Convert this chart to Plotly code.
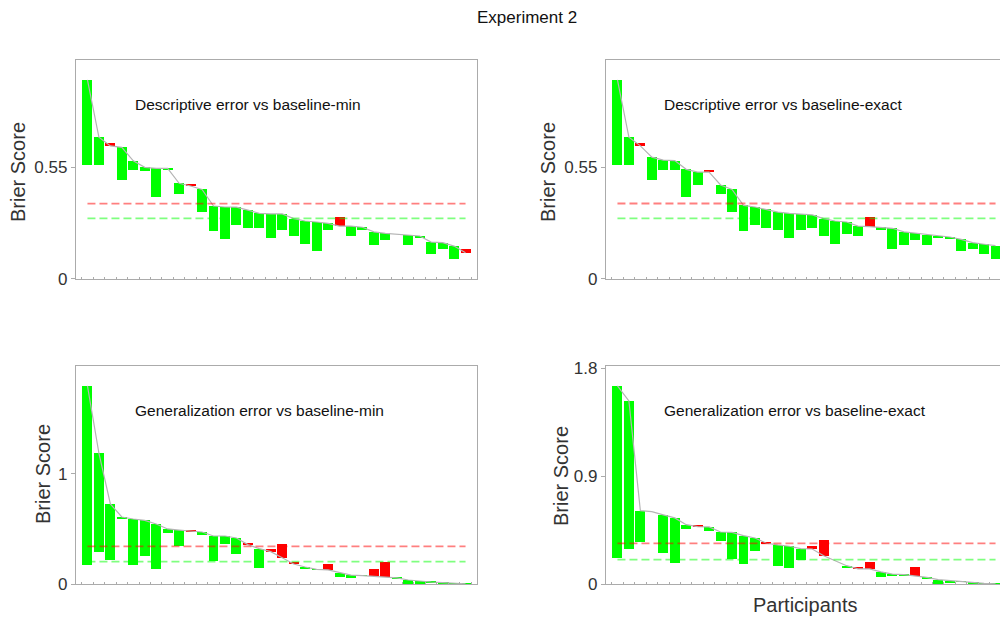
import plotly.graph_objects as go

# Brier scores per participant (34 participants), sorted by baseline score.
participants = list(range(1, 35))

# Descriptive error vs baseline-min
baseline_desc_min = [0.982, 0.699, 0.656, 0.649, 0.582, 0.550, 0.545, 0.545, 0.471, 0.458,
                     0.441, 0.359, 0.354, 0.353, 0.339, 0.323, 0.320, 0.320, 0.297, 0.285,
                     0.280, 0.273, 0.260, 0.260, 0.254, 0.231, 0.224, 0.219, 0.214, 0.211,
                     0.181, 0.178, 0.161, 0.128]
model_desc_min = [0.562, 0.562, 0.669, 0.489, 0.539, 0.534, 0.405, 0.540, 0.418, 0.463,
                  0.329, 0.236, 0.196, 0.265, 0.250, 0.250, 0.203, 0.241, 0.213, 0.173,
                  0.137, 0.241, 0.305, 0.212, 0.242, 0.168, 0.193, 0.219, 0.168, 0.203,
                  0.124, 0.147, 0.099, 0.147]

# Descriptive error vs baseline-exact
baseline_desc_exact = [0.982, 0.699, 0.656, 0.600, 0.586, 0.583, 0.540, 0.526, 0.527, 0.463,
                       0.441, 0.362, 0.354, 0.343, 0.329, 0.323, 0.320, 0.315, 0.297, 0.285,
                       0.280, 0.260, 0.257, 0.254, 0.249, 0.231, 0.224, 0.217, 0.212, 0.206,
                       0.194, 0.178, 0.170, 0.163]
model_desc_exact = [0.562, 0.562, 0.669, 0.489, 0.539, 0.539, 0.405, 0.463, 0.532, 0.418,
                    0.329, 0.236, 0.265, 0.250, 0.241, 0.203, 0.241, 0.250, 0.213, 0.173,
                    0.221, 0.213, 0.305, 0.242, 0.148, 0.168, 0.193, 0.168, 0.203, 0.196,
                    0.138, 0.147, 0.124, 0.099]

# Generalization error vs baseline-min
baseline_gen_min = [1.798, 1.190, 0.728, 0.610, 0.592, 0.580, 0.547, 0.502, 0.492, 0.483,
                    0.474, 0.438, 0.438, 0.420, 0.360, 0.323, 0.296, 0.241, 0.184, 0.157,
                    0.136, 0.130, 0.105, 0.084, 0.078, 0.072, 0.066, 0.058, 0.039, 0.027,
                    0.021, 0.015, 0.010, 0.005]
model_gen_min = [0.175, 0.293, 0.221, 0.598, 0.175, 0.257, 0.142, 0.468, 0.350, 0.490,
                 0.450, 0.211, 0.368, 0.278, 0.366, 0.151, 0.320, 0.365, 0.196, 0.141,
                 0.134, 0.184, 0.069, 0.066, 0.076, 0.139, 0.202, 0.052, 0.005, 0.005,
                 0.018, 0.005, 0.008, 0.004]

# Generalization error vs baseline-exact
baseline_gen_exact = [1.653, 1.528, 0.614, 0.605, 0.578, 0.553, 0.497, 0.481, 0.478, 0.436,
                      0.433, 0.405, 0.386, 0.342, 0.328, 0.317, 0.297, 0.294, 0.238, 0.194,
                      0.155, 0.128, 0.128, 0.103, 0.085, 0.080, 0.070, 0.058, 0.039, 0.030,
                      0.022, 0.016, 0.008, 0.003]
model_gen_exact = [0.222, 0.297, 0.353, 0.605, 0.264, 0.181, 0.464, 0.487, 0.447, 0.363,
                   0.211, 0.172, 0.278, 0.353, 0.155, 0.139, 0.203, 0.319, 0.369, 0.194,
                   0.144, 0.138, 0.186, 0.061, 0.072, 0.072, 0.144, 0.047, 0.003, 0.014,
                   0.020, 0.002, 0.007, 0.002]

panel_titles = ["Descriptive error vs baseline-min", "Descriptive error vs baseline-exact",
                "Generalization error vs baseline-min", "Generalization error vs baseline-exact"]
y_tickvals = [[0, 0.55], [0, 0.55], [0, 1], [0, 0.9, 1.8]]
y_ticktext = [["0", "0.55"], ["0", "0.55"], ["0", "1"], ["0", "0.9", "1.8"]]
y_ranges = [[0, 1.08], [0, 1.08], [0, 1.979], [0, 1.819]]

panels = [(baseline_desc_min, model_desc_min),
          (baseline_desc_exact, model_desc_exact),
          (baseline_gen_min, model_gen_min),
          (baseline_gen_exact, model_gen_exact)]

W, H = 1000, 621
FONT = "Liberation Sans, Arial, sans-serif"
FRAME = "#ababab"
GREEN = "#00ff00"
RED = "#ff0000"

# pixel geometry of the four plot areas (left, right, top, bottom)
x_doms = [[76 / W, 477 / W], [606 / W, 1.0], [76 / W, 477 / W], [606 / W, 1.0]]
y_doms = [[(H - 278.7) / H, (H - 60) / H], [(H - 278.7) / H, (H - 60) / H],
          [(H - 584.3) / H, (H - 366) / H], [(H - 584.3) / H, (H - 366) / H]]
x_ranges = [[0, 35], [0, 35 * 394 / 401], [0, 35], [0, 35 * 394 / 401]]

fig = go.Figure()
n = len(participants)

for i, (base, model) in enumerate(panels):
    ax = "" if i == 0 else str(i + 1)
    xa, ya = "x" + ax, "y" + ax
    lows = [min(b, m) for b, m in zip(base, model)]
    spans = [abs(m - b) for b, m in zip(base, model)]
    colors = [GREEN if m <= b else RED for b, m in zip(base, model)]
    fig.add_trace(go.Bar(x=participants, y=spans, base=lows, width=0.87,
                         marker=dict(color=colors, line_width=0),
                         xaxis=xa, yaxis=ya, showlegend=False, hoverinfo="skip"))
    fig.add_trace(go.Scatter(x=participants, y=base, mode="lines",
                             line=dict(color="#b5b5b5", width=1.2),
                             xaxis=xa, yaxis=ya, showlegend=False, hoverinfo="skip"))
    mean_base = sum(base) / n
    mean_model = sum(model) / n
    for val, col in ((mean_base, "rgba(255,0,0,0.5)"), (mean_model, "rgba(0,255,0,0.5)")):
        fig.add_trace(go.Scatter(x=[participants[0], participants[-1]], y=[val, val],
                                 mode="lines", line=dict(color=col, width=1.8, dash="8px,4px"),
                                 xaxis=xa, yaxis=ya, showlegend=False, hoverinfo="skip"))

    right_col = i in (1, 3)
    fig.update_layout(**{
        "xaxis" + ax: dict(domain=x_doms[i], range=x_ranges[i], anchor=ya,
                           showline=True, linecolor=FRAME, linewidth=1.3, mirror=True,
                           showgrid=False, zeroline=False,
                           tickvals=[k + 0.5 for k in range(0, 35)],
                           ticks="inside", ticklen=2, tickcolor=FRAME,
                           showticklabels=False),
        "yaxis" + ax: dict(domain=y_doms[i], range=y_ranges[i], anchor=xa,
                           showline=True, linecolor=FRAME, linewidth=1.3,
                           mirror=(not right_col),
                           showgrid=False, zeroline=False,
                           tickvals=y_tickvals[i], ticktext=y_ticktext[i],
                           ticks="outside", ticklen=4, tickcolor=FRAME,
                           tickfont=dict(family=FONT, size=17, color="#333333")),
    })
    fig.add_annotation(text=panel_titles[i], xref=xa + " domain", yref=ya + " domain",
                       x=57 / 401, y=0.797, xanchor="left", yanchor="middle",
                       showarrow=False, font=dict(family=FONT, size=15.5, color="#111111"))

# axis titles
for xc, yc in ((18, 172), (548, 172), (43, 474), (561, 476)):
    fig.add_annotation(text="Brier Score", xref="paper", yref="paper",
                       x=xc / W, y=(H - yc) / H, xanchor="center", yanchor="middle",
                       textangle=-90, showarrow=False,
                       font=dict(family=FONT, size=20, color="#333333"))
fig.add_annotation(text="Participants", xref="paper", yref="paper",
                   x=805 / W, y=(H - 605) / H, xanchor="center", yanchor="middle",
                   showarrow=False, font=dict(family=FONT, size=20, color="#333333"))
fig.add_annotation(text="Experiment 2", xref="paper", yref="paper",
                   x=527 / W, y=(H - 17) / H, xanchor="center", yanchor="middle",
                   showarrow=False, font=dict(family=FONT, size=17, color="#111111"))

fig.update_layout(width=W, height=H, margin=dict(l=0, r=0, t=0, b=0, autoexpand=False),
                  paper_bgcolor="white", plot_bgcolor="white", barmode="overlay",
                  bargap=0)

fig.write_html("out.html")
